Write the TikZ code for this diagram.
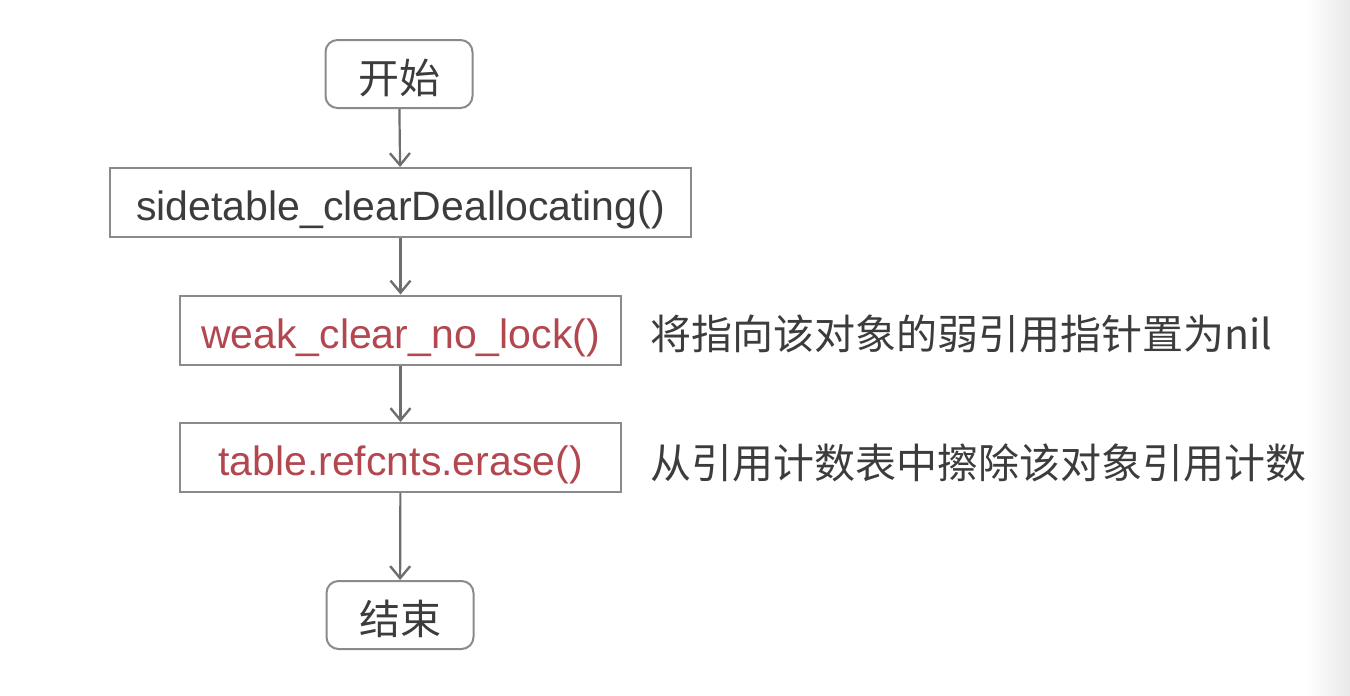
\documentclass[tikz,border=0pt]{standalone}
\usepackage{fontspec}
\setmainfont{Liberation Sans}
\newfontfamily\cjk{Noto Sans CJK SC}
\usepackage{xcolor}
\usepackage{tikz}
\usetikzlibrary{arrows.meta,shapes.misc}
\definecolor{boxgray}{HTML}{8A8A8A}
\definecolor{arrowgray}{HTML}{6E6E6E}
\definecolor{textgray}{HTML}{3C3C3C}
\definecolor{funcred}{HTML}{B3474F}
\tikzset{
    terminal/.style={draw=boxgray, line width=2pt, rounded corners=12pt, minimum width=147pt, minimum height=68pt, inner sep=0pt, text height=38pt, text depth=0pt, text=textgray, font=\cjk\fontsize{41}{49}\selectfont},
    callbox/.style={draw=boxgray, line width=2pt, minimum height=69pt, inner sep=0pt, text height=36pt, text depth=0pt, font=\fontsize{41}{49}\selectfont},
    note/.style={anchor=base west, inner sep=0pt, text=textgray, font=\cjk\fontsize{41}{49}\selectfont},
    flow/.style={draw=arrowgray, line width=2.2pt, -{Straight Barb[length=12pt,width=20pt,line width=2.4pt]}}
}
\begin{document}
\begin{tikzpicture}[x=1pt,y=-1pt]
        \useasboundingbox (0,0) rectangle (1350,696);
        % background edge
        \shade[left color=white, right color=black!9] (1305,0) rectangle (1350,696);

        % coordinates
        \coordinate (c1) at (399,74);
        \coordinate (c2) at (400.5,202.5);
        \coordinate (c3) at (400.5,330);
        \coordinate (c4) at (400.5,457.5);
        \coordinate (c5) at (400,615);

        % boxes
        \node[terminal] (start) at (c1) {开始};
        \node[callbox, minimum width=581pt, text=textgray] (clear) at (c2) {sidetable\_clearDeallocating()};
        \node[callbox, minimum width=441pt, text=funcred] (weak) at (c3) {weak\_clear\_no\_lock()};
        \node[callbox, minimum width=441pt, text=funcred] (erase) at (c4) {table.refcnts.erase()};
        \node[terminal] (end) at (c5) {结束};

        % arrows
        \draw[flow] (start) -- (clear);
        \draw[flow] (clear) -- (weak);
        \draw[flow] (weak) -- (erase);
        \draw[flow] (erase) -- (end);

        % Text
        \node[note] (weaknote) at (650,349) {将指向该对象的弱引用指针置为nil};
        \node[note] (erasenote) at (650,478) {从引用计数表中擦除该对象引用计数};
\end{tikzpicture}
\end{document}
